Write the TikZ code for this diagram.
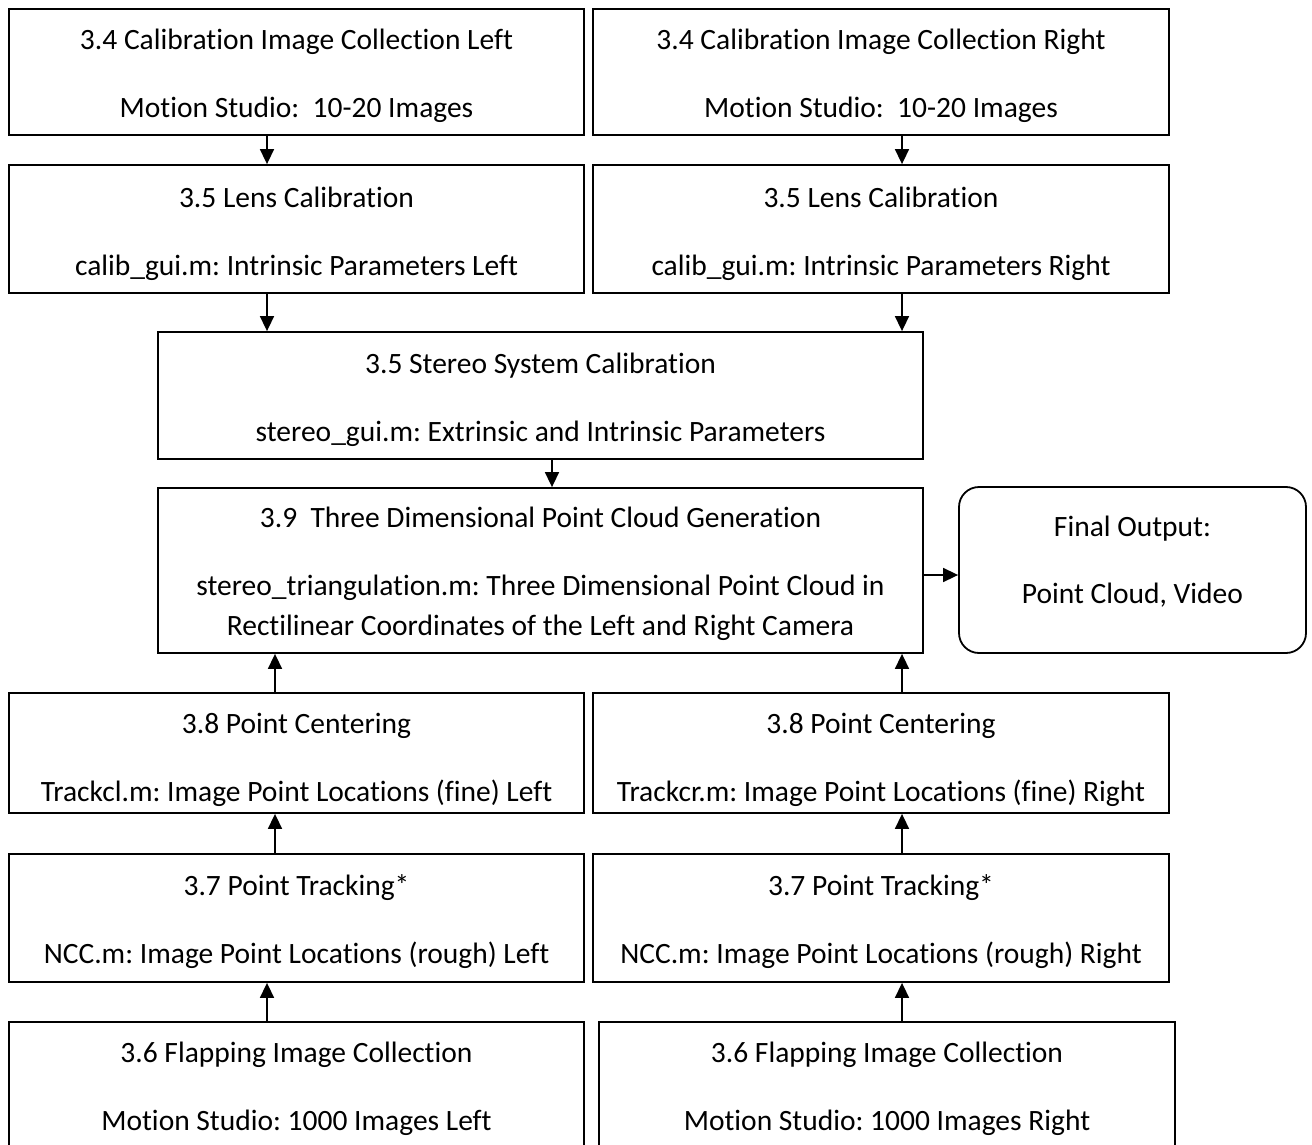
\documentclass[tikz,border=0pt]{standalone}
\usepackage{fontspec}
\setmainfont{Carlito}[Ligatures={NoCommon,TeX},RawFeature={-liga}]
\frenchspacing
\usetikzlibrary{arrows.meta,calc}
\begin{document}
\begin{tikzpicture}[x=1pt,y=-1pt,
  box/.style={draw,line width=1.8pt,rectangle,inner sep=0pt},
  tx/.style={inner sep=0pt,align=center,font=\fontsize{29.5}{34}\selectfont\frenchspacing},
  arr/.style={line width=1.6pt,-{Triangle[length=15pt,width=14pt]}}]
\useasboundingbox (0,0) rectangle (1312,1145);
\begin{scope}
\clip (0,0) rectangle (1312,1145);
\node[box,minimum width=575,minimum height=126] (c4L) at (296.5,72) {};
\node[tx] (c4Lt) at (296.5,75.5) {3.4 Calibration Image Collection Left\\[34pt]Motion Studio:\ \ 10-20 Images};
\node[box,minimum width=576,minimum height=126] (c4R) at (881,72) {};
\node[tx] (c4Rt) at (881,75.5) {3.4 Calibration Image Collection Right\\[34pt]Motion Studio:\ \ 10-20 Images};
\node[box,minimum width=575,minimum height=128] (c5L) at (296.5,229) {};
\node[tx] (c5Lt) at (296.5,234) {3.5 Lens Calibration\\[34pt]calib\_gui.m: Intrinsic Parameters Left};
\node[box,minimum width=576,minimum height=128] (c5R) at (881,229) {};
\node[tx] (c5Rt) at (881,234) {3.5 Lens Calibration\\[34pt]calib\_gui.m: Intrinsic Parameters Right};
\node[box,minimum width=765,minimum height=127] (st) at (540.5,395.5) {};
\node[tx] (stt) at (540.5,400) {3.5 Stereo System Calibration\\[34pt]stereo\_gui.m: Extrinsic and Intrinsic Parameters};
\node[box,minimum width=765,minimum height=165] (pc) at (540.5,570.5) {};
\node[tx] (pct) at (540.5,574) {3.9\ \ Three Dimensional Point Cloud Generation\\[34pt]stereo\_triangulation.m: Three Dimensional Point Cloud in\\[6pt]Rectilinear Coordinates of the Left and Right Camera};
\node[box,rounded corners=20pt,minimum width=347,minimum height=166] (fin) at (1132.5,570) {};
\node[tx] (fint) at (1132.5,561.5) {Final Output:\\[33pt]Point Cloud, Video};
\node[box,minimum width=575,minimum height=120] (c8L) at (296.5,753) {};
\node[tx] (c8Lt) at (296.5,760) {3.8 Point Centering\\[34pt]Trackcl.m: Image Point Locations (fine) Left};
\node[box,minimum width=576,minimum height=120] (c8R) at (881,753) {};
\node[tx] (c8Rt) at (881,760) {3.8 Point Centering\\[34pt]Trackcr.m: Image Point Locations (fine) Right};
\node[box,minimum width=575,minimum height=128] (c7L) at (296.5,918) {};
\node[tx] (c7Lt) at (296.5,921.5) {3.7 Point Tracking*\\[34pt]NCC.m: Image Point Locations (rough) Left};
\node[box,minimum width=576,minimum height=128] (c7R) at (881,918) {};
\node[tx] (c7Rt) at (881,921.5) {3.7 Point Tracking*\\[34pt]NCC.m: Image Point Locations (rough) Right};
\node[box,minimum width=575,minimum height=140] (c6L) at (296.5,1092) {};
\node[tx] (c6Lt) at (296.5,1089) {3.6 Flapping Image Collection\\[34pt]Motion Studio: 1000 Images Left};
\node[box,minimum width=576,minimum height=140] (c6R) at (887,1092) {};
\node[tx] (c6Rt) at (887,1089) {3.6 Flapping Image Collection\\[34pt]Motion Studio: 1000 Images Right};
\end{scope}
\coordinate (xa) at (267,0);
\coordinate (xb) at (275,0);
\coordinate (xc) at (902,0);
\coordinate (xd) at (552,0);
\coordinate (ya) at (0,575);
\draw[arr] (c4L.south -| xa) -- (c5L.north -| xa);
\draw[arr] (c4R.south -| xc) -- (c5R.north -| xc);
\draw[arr] (c5L.south -| xa) -- (st.north -| xa);
\draw[arr] (c5R.south -| xc) -- (st.north -| xc);
\draw[arr] (st.south -| xd) -- (pc.north -| xd);
\draw[arr] (pc.east |- ya) -- (fin.west |- ya);
\draw[arr] (c8L.north -| xb) -- (pc.south -| xb);
\draw[arr] (c8R.north -| xc) -- (pc.south -| xc);
\draw[arr] (c7L.north -| xb) -- (c8L.south -| xb);
\draw[arr] (c7R.north -| xc) -- (c8R.south -| xc);
\draw[arr] (c6L.north -| xa) -- (c7L.south -| xa);
\draw[arr] (c6R.north -| xc) -- (c7R.south -| xc);
\end{tikzpicture}
\end{document}
